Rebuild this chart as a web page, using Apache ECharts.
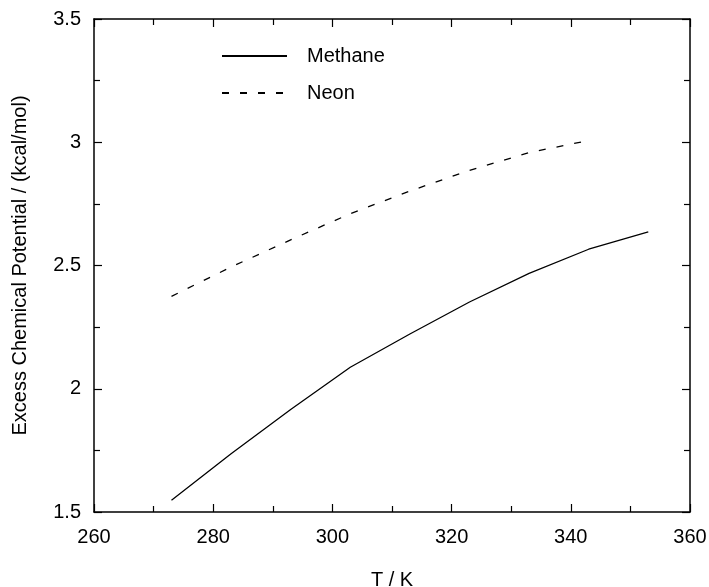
<!DOCTYPE html>
<html>
<head>
<meta charset="utf-8">
<script src="https://cdn.jsdelivr.net/npm/echarts@6/dist/echarts.min.js"></script>
<style>html,body{margin:0;padding:0;background:#fff}#c{width:709px;height:587px}</style>
</head>
<body>
<div id="c"></div>
<script>
var methaneT = [273, 283, 293, 303, 313, 323, 333, 343, 353];
var methaneMu = [1.548, 1.736, 1.916, 2.087, 2.222, 2.352, 2.468, 2.566, 2.636];
var neonT = [273, 283, 293, 303, 313, 323, 333, 343];
var neonMu = [2.375, 2.494, 2.604, 2.710, 2.802, 2.886, 2.958, 3.007];
var seriesNames = ['Methane', 'Neon'];
var xTitle = 'T / K';
var yTitle = 'Excess Chemical Potential / (kcal/mol)';

function pairs(xs, ys) { return xs.map(function (x, i) { return [x, ys[i]]; }); }

var font = 'Liberation Sans, Arial, Helvetica, sans-serif';
var fs = 20;
var axisCommon = {
  axisLine: { show: true, onZero: false, lineStyle: { color: '#000', width: 1.5 } },
  axisTick: { show: true, inside: true, length: 8, lineStyle: { color: '#000', width: 1.2 } },
  minorTick: { show: true, splitNumber: 2, length: 6, lineStyle: { color: '#000', width: 1.2 } },
  splitLine: { show: false },
  minorSplitLine: { show: false }
};
function ax(extra) { return Object.assign({}, JSON.parse(JSON.stringify(axisCommon)), extra); }

var chart = echarts.init(document.getElementById('c'), null, { renderer: 'canvas' });
chart.setOption({
  animation: false,
  backgroundColor: '#fff',
  textStyle: { fontFamily: font },
  grid: { left: 94, right: 19, top: 19, bottom: 75, containLabel: false, outerBoundsMode: 'none' },
  legend: {
    orient: 'vertical',
    left: 221, top: 46, padding: 0,
    itemWidth: 65, itemHeight: 20, itemGap: 17,
    data: seriesNames,
    itemStyle: { opacity: 0 },
    textStyle: { fontSize: fs, color: '#000', fontFamily: font, padding: [0, 0, 0, 15] }
  },
  xAxis: [
    ax({ type: 'value', min: 260, max: 360, interval: 20, position: 'bottom',
      name: xTitle, nameLocation: 'middle', nameGap: 58,
      nameTextStyle: { fontSize: fs, color: '#000', fontFamily: font },
      axisLabel: { show: true, margin: 15, fontSize: fs, color: '#000', fontFamily: font } }),
    ax({ type: 'value', min: 260, max: 360, interval: 20, position: 'top',
      axisLabel: { show: false } })
  ],
  yAxis: [
    ax({ type: 'value', min: 1.5, max: 3.5, interval: 0.5, position: 'left',
      name: yTitle, nameLocation: 'middle', nameGap: 64, nameRotate: 90,
      nameTextStyle: { fontSize: fs, color: '#000', fontFamily: font },
      axisLabel: { show: true, margin: 13, fontSize: fs, color: '#000', fontFamily: font } }),
    ax({ type: 'value', min: 1.5, max: 3.5, interval: 0.5, position: 'right',
      axisLabel: { show: false } })
  ],
  series: [
    { name: seriesNames[0], type: 'line', symbol: 'none', smooth: false,
      data: pairs(methaneT, methaneMu),
      lineStyle: { color: '#000', width: 1.3, type: 'solid' }, itemStyle: { color: '#000' } },
    { name: seriesNames[1], type: 'line', symbol: 'none', smooth: false,
      data: pairs(neonT, neonMu),
      lineStyle: { color: '#000', width: 1.3, type: [7, 11] }, itemStyle: { color: '#000' } }
  ]
});
</script>
</body>
</html>
